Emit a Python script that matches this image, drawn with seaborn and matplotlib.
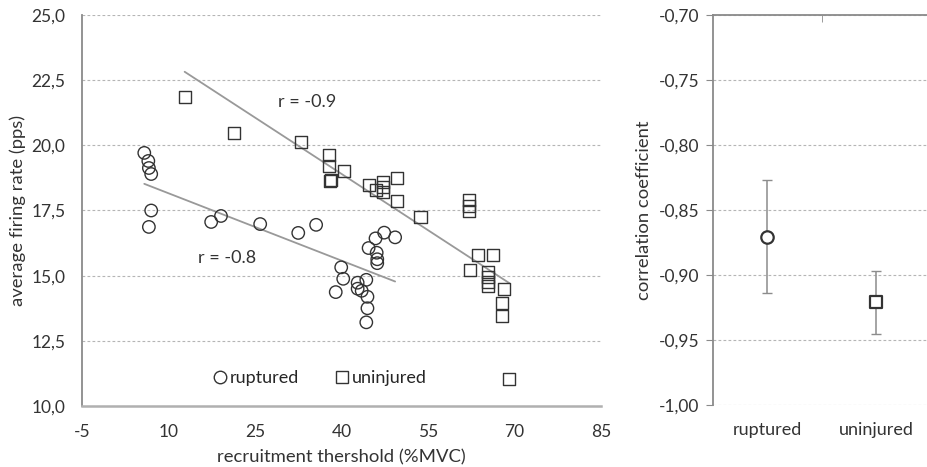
import numpy as np
import pandas as pd
import matplotlib
matplotlib.use("Agg")
import matplotlib.pyplot as plt
from matplotlib.ticker import FuncFormatter
from matplotlib.lines import Line2D
import seaborn as sns

# ruptured (circles)
rup_x = [5.8, 6.5, 6.6, 7.0, 7.0, 6.6, 17.4, 19.1, 25.9, 32.5, 35.6, 39.95, 40.3, 39.0,
         42.8, 42.8, 43.5, 44.3, 44.5, 44.5, 44.3, 44.7, 45.9, 46.1, 46.2, 46.2, 47.4, 49.3]
rup_y = [19.71, 19.4, 19.13, 18.9, 17.5, 16.87, 17.06, 17.29, 16.98, 16.64, 16.95, 15.32, 14.88, 14.37,
         14.73, 14.5, 14.42, 14.84, 14.19, 13.75, 13.21, 16.06, 16.43, 15.88, 15.63, 15.48, 16.65, 16.47]

# uninjured (squares)
uni_x = [12.8, 21.4, 32.9, 37.9, 37.9, 40.4, 38.0, 38.1, 44.8, 45.9, 47.2, 47.2, 47.2, 49.6,
         49.6, 53.7, 62.1, 62.1, 62.1, 63.6, 66.2, 62.2, 65.4, 65.4, 65.4, 65.4, 68.1, 67.8, 67.9, 69.1]
uni_y = [21.85, 20.49, 20.14, 19.63, 19.22, 19.02, 18.63, 18.67, 18.48, 18.29, 18.58, 18.39, 18.22, 18.73,
         17.86, 17.26, 17.89, 17.67, 17.48, 15.78, 15.79, 15.21, 15.14, 14.95, 14.76, 14.6, 14.5, 13.97, 13.45, 11.03]

# correlation coefficients per group
groups = ["ruptured", "uninjured"]
r_mean = [-0.8705, -0.921]
r_low = [-0.914, -0.945]
r_high = [-0.827, -0.8967]

sns.set_style("white")
plt.rcParams['font.family'] = ['Lato', 'DejaVu Sans']
plt.rcParams['axes.unicode_minus'] = False

fig = plt.figure(figsize=(9.27, 4.67), dpi=100)
W, H = 927, 467
ax1 = fig.add_axes([82 / W, (H - 406) / H, (601 - 82) / W, 391 / H])
ax2 = fig.add_axes([713 / W, (H - 405) / H, (W - 713) / W, 390 / H])

dark = "#333333"
txt = "#333333"
grid_kw = dict(color="#b5b5b5", linestyle=(0, (2.5, 2)), linewidth=0.8)

# ---- left panel: scatter + fits
ax1.set_axisbelow(True)
ax1.yaxis.grid(True, **grid_kw)
sns.regplot(x=rup_x, y=rup_y, scatter=False, ci=None, truncate=True, ax=ax1,
            line_kws=dict(color="#999999", lw=1.3))
sns.regplot(x=uni_x, y=uni_y, scatter=False, ci=None, truncate=True, ax=ax1,
            line_kws=dict(color="#999999", lw=1.3))
sns.scatterplot(x=rup_x, y=rup_y, marker="o", s=80, fc="none", ec=dark, linewidth=1.0, ax=ax1, zorder=3)
sns.scatterplot(x=uni_x, y=uni_y, marker="s", s=75, fc="none", ec=dark, linewidth=1.0, ax=ax1, zorder=3)

ax1.set_xlim(-5, 85)
ax1.set_ylim(10, 25)
ax1.set_xticks(np.arange(-5, 86, 15))
ax1.set_yticks(np.arange(10, 25.1, 2.5))
ax1.yaxis.set_major_formatter(FuncFormatter(lambda v, p: f"{v:.1f}".replace(".", ",")))
ax1.tick_params(axis="both", length=0, labelsize=12.5, colors=txt)
ax1.tick_params(axis="x", pad=13)
ax1.tick_params(axis="y", pad=12)
for s in ["top", "right"]:
    ax1.spines[s].set_visible(False)
ax1.spines["left"].set_color("#8a8a8a")
ax1.spines["left"].set_linewidth(1.3)
ax1.spines["bottom"].set_color("#b0b0b0")
ax1.spines["bottom"].set_linewidth(1.8)
ax1.set_xlabel("recruitment thershold (%MVC)", fontsize=13.3, color=txt, labelpad=7)
ax1.set_ylabel("average firing rate (pps)", fontsize=13.3, color=txt, labelpad=4)

ax1.text(29.0, 21.66, "r = -0.9", fontsize=13, color=txt, va="center")
ax1.text(15.2, 15.69, "r = -0.8", fontsize=13, color=txt, va="center")

handles = [Line2D([], [], marker="o", ls="none", mfc="none", mec=dark, ms=9, mew=1.0),
           Line2D([], [], marker="s", ls="none", mfc="none", mec=dark, ms=9, mew=1.0)]
ax1.legend(handles, groups, frameon=False, ncol=2, loc="center", bbox_to_anchor=(0.455, 0.072),
           handletextpad=0.0, columnspacing=1.8, fontsize=13, handlelength=1.1)

# ---- right panel: correlation coefficients
xs = np.arange(len(groups))
ax2.set_axisbelow(True)
ax2.yaxis.grid(True, **grid_kw)
yerr = [np.array(r_mean) - np.array(r_low), np.array(r_high) - np.array(r_mean)]
ax2.errorbar(xs, r_mean, yerr=yerr, fmt="none", ecolor="#8c8c8c", elinewidth=1.1, capsize=3.5, capthick=1.0)
sns.scatterplot(x=xs[:1], y=r_mean[:1], marker="o", s=80, fc="white", ec=dark, linewidth=1.6, ax=ax2, zorder=3)
sns.scatterplot(x=xs[1:], y=r_mean[1:], marker="s", s=72, fc="white", ec=dark, linewidth=1.6, ax=ax2, zorder=3)

ax2.set_xlim(-0.5, 1.47)
ax2.set_ylim(-1.0, -0.7)
ax2.set_yticks(np.arange(-1.0, -0.699, 0.05))
ax2.yaxis.set_major_formatter(FuncFormatter(lambda v, p: f"{v:.2f}".replace(".", ",")))
ax2.set_xticks(xs)
ax2.set_xticklabels(groups)
ax2.set_xticks([0.5], minor=True)
ax2.tick_params(axis="x", which="major", length=0, pad=12, labelsize=13, colors=txt)
ax2.tick_params(axis="x", which="minor", top=True, bottom=False, direction="in", length=5, color="#8a8a8a")
ax2.tick_params(axis="y", left=True, length=5, direction="out", color="#8a8a8a", pad=5,
                labelsize=12.5, labelcolor=txt)
ax2.spines["right"].set_visible(False)
ax2.spines["bottom"].set_visible(False)
ax2.spines["left"].set_color("#8a8a8a")
ax2.spines["left"].set_linewidth(1.3)
ax2.spines["top"].set_color("#8a8a8a")
ax2.spines["top"].set_linewidth(1.3)
ax2.set_ylabel("correlation coefficient", fontsize=13.3, color=txt, labelpad=5)

fig.savefig("out.png", dpi=100)
